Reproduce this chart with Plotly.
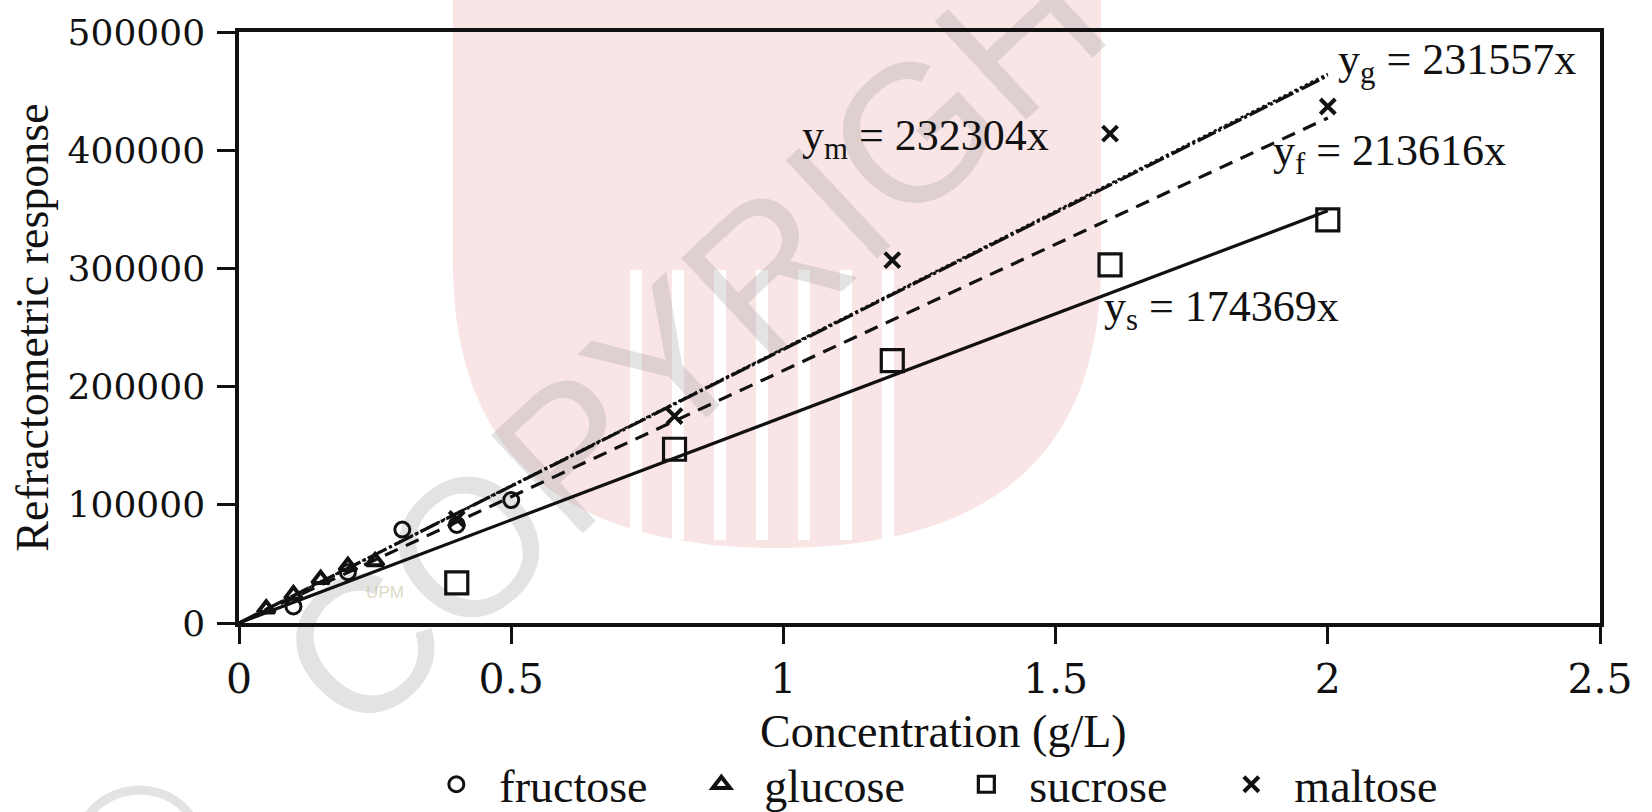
import plotly.graph_objects as go

# ---------------- data ----------------
fructose_x = [0.1, 0.2, 0.3, 0.4, 0.5]
fructose_y = [14000, 43000, 79000, 83000, 104000]

glucose_x = [0.05, 0.1, 0.15, 0.2, 0.25]
glucose_y = [12000, 24000, 37000, 48000, 52000]

sucrose_x = [0.4, 0.8, 1.2, 1.6, 2.0]
sucrose_y = [34000, 147000, 222000, 303000, 341000]

maltose_x = [0.4, 0.8, 1.2, 1.6, 2.0]
maltose_y = [88000, 175000, 307000, 414000, 437000]

# regression slopes (from the equations on the chart)
slope_names = ["glucose", "maltose", "fructose", "sucrose"]
slopes = [231557, 232304, 213616, 174369]
fit_x = [0, 2.0]

eq_labels = ["y<sub>g</sub> = 231557x", "y<sub>m</sub> = 232304x",
             "y<sub>f</sub> = 213616x", "y<sub>s</sub> = 174369x"]
eq_x = [2.015, 1.03, 1.895, 1.585]
eq_y = [474000, 410000, 397000, 265500]

x_ticks = [0, 0.5, 1, 1.5, 2, 2.5]
y_ticks = [0, 100000, 200000, 300000, 400000, 500000]

legend_names = ["fructose", "glucose", "sucrose", "maltose"]
x_title = "Concentration (g/L)"
y_title = "Refractometric response"

# ---------------- styling ----------------
SERIF = "Liberation Serif"
TICKFONT = "DejaVu Serif"
BLACK = "#111111"
PAD = "\u00a0\u00a0"

fig = go.Figure()

line_styles = {
    "glucose": dict(dash="20px,3px,3px,3px", width=3.3),
    "maltose": dict(dash="3px,3px", width=2.5),
    "fructose": dict(dash="14px,9px", width=3.2),
    "sucrose": dict(dash="solid", width=3.2),
}
for name, s in zip(slope_names, slopes):
    fig.add_trace(go.Scatter(
        x=fit_x, y=[s * v for v in fit_x], mode="lines",
        line=dict(color=BLACK, **line_styles[name]),
        showlegend=False, hoverinfo="skip"))

fig.add_trace(go.Scatter(x=fructose_x, y=fructose_y, mode="markers", name=PAD + legend_names[0],
                         marker=dict(symbol="circle-open", size=15, color=BLACK, line=dict(width=3))))
fig.add_trace(go.Scatter(x=glucose_x, y=glucose_y, mode="markers", name=PAD + legend_names[1],
                         marker=dict(symbol="triangle-up-open", size=15, color=BLACK, line=dict(width=4))))
fig.add_trace(go.Scatter(x=sucrose_x, y=sucrose_y, mode="markers", name=PAD + legend_names[2],
                         marker=dict(symbol="square-open", size=22, color=BLACK, line=dict(width=3.2))))
fig.add_trace(go.Scatter(x=maltose_x, y=maltose_y, mode="markers", name=PAD + legend_names[3],
                         marker=dict(symbol="x-thin-open", size=15, color=BLACK, line=dict(width=4))))

for txt, ex, ey in zip(eq_labels, eq_x, eq_y):
    fig.add_annotation(x=ex, y=ey, text=txt, showarrow=False, xanchor="left", yanchor="middle",
                       font=dict(family=SERIF, size=44, color=BLACK))

# x-axis title (placed as a paper annotation so it can sit slightly right of centre, as in the original)
fig.add_annotation(x=0.518, y=-0.184, xref="paper", yref="paper", text=x_title, showarrow=False,
                   xanchor="center", yanchor="middle", font=dict(family=SERIF, size=46, color=BLACK))

# ---------------- watermark (drawn below the data) ----------------
def px2paper(px, py):
    return (px - 239) / 1361, (623 - py) / 591

pts = [px2paper(453, -5), px2paper(1101, -5), px2paper(1101, 263), px2paper(1101, 548),
       px2paper(777, 548), px2paper(453, 548), px2paper(453, 263)]
path = ("M {0[0]:.4f} {0[1]:.4f} L {1[0]:.4f} {1[1]:.4f} L {2[0]:.4f} {2[1]:.4f} "
        "Q {3[0]:.4f} {3[1]:.4f} {4[0]:.4f} {4[1]:.4f} Q {5[0]:.4f} {5[1]:.4f} {6[0]:.4f} {6[1]:.4f} Z").format(*pts)
fig.add_shape(type="path", path=path, xref="paper", yref="paper", layer="below",
              fillcolor="#f9e4e6", line=dict(width=0))
# white stripes of the logo
for sx in [630, 672, 714, 756, 798, 840, 882]:
    a = px2paper(sx, 270)
    b = px2paper(sx + 12, 540)
    fig.add_shape(type="rect", xref="paper", yref="paper", x0=a[0], x1=b[0], y0=b[1], y1=a[1],
                  layer="below", fillcolor="white", line=dict(width=0))

cx, cy = px2paper(610, 390)
fig.add_shape(type="rect", xref="paper", yref="paper", x0=cx - 0.01, x1=cx + 0.01, y0=cy - 0.01, y1=cy + 0.01,
              layer="below", line=dict(width=0), fillcolor="rgba(0,0,0,0)",
              label=dict(text="©\u00a0\u00a0\u00a0COPYRIGHT", textangle=-43, textposition="middle center",
                         font=dict(family="Liberation Sans", size=195, color="rgba(150,150,150,0.27)")))
ux, uy = px2paper(385, 590)
fig.add_shape(type="rect", xref="paper", yref="paper", x0=ux - 0.01, x1=ux + 0.01, y0=uy - 0.01, y1=uy + 0.01,
              layer="below", line=dict(width=0), fillcolor="rgba(0,0,0,0)",
              label=dict(text="UPM", textposition="middle center",
                         font=dict(family="Liberation Sans", size=17, color="rgba(200,190,160,0.6)")))

# ---------------- layout ----------------
fig.update_layout(
    width=1652, height=812,
    margin=dict(l=239, r=52, t=32, b=189, autoexpand=False),
    paper_bgcolor="white", plot_bgcolor="rgba(0,0,0,0)",
    showlegend=True,
    legend=dict(orientation="h", x=0.145, xanchor="left", y=-0.273, yanchor="middle",
                font=dict(family=SERIF, size=46, color=BLACK),
                entrywidth=220, entrywidthmode="pixels", itemwidth=30,
                bgcolor="rgba(0,0,0,0)", borderwidth=0),
    xaxis=dict(range=[0, 2.5], tickvals=x_ticks, ticktext=[f"{v:g}" for v in x_ticks],
               automargin=False,
               showgrid=False, zeroline=False, showline=True, linecolor=BLACK, linewidth=3.5,
               mirror=True, ticks="outside", ticklen=17, tickwidth=3, tickcolor=BLACK,
               tickfont=dict(family=TICKFONT, size=41, color=BLACK), ticklabelstandoff=0),
    yaxis=dict(range=[0, 500000], tickvals=y_ticks, ticktext=[str(v) for v in y_ticks],
               automargin=False,
               showgrid=False, zeroline=False, showline=True, linecolor=BLACK, linewidth=3.5,
               mirror=True, ticks="outside", ticklen=18, tickwidth=3, tickcolor=BLACK,
               tickfont=dict(family=TICKFONT, size=36, color=BLACK), ticklabelstandoff=5,
               title=dict(text=y_title, standoff=6,
                          font=dict(family=SERIF, size=46, color=BLACK))),
)

fig.write_html("out.html")
